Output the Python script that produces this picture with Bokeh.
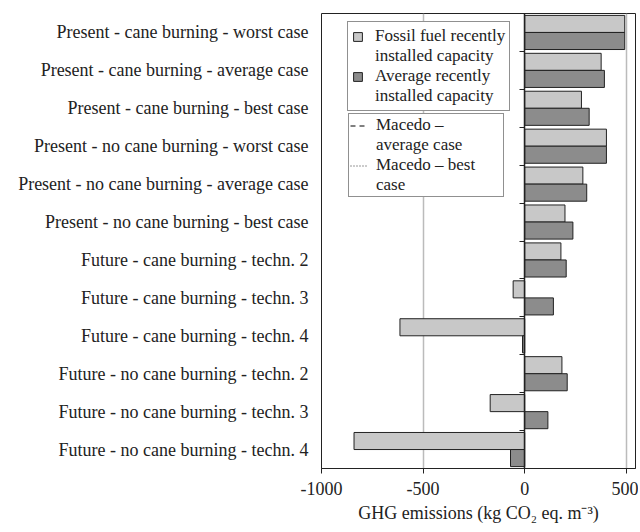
from bokeh.plotting import figure
from bokeh.models import Range1d, FixedTicker, LinearAxis, Legend, LegendItem, ColumnDataSource
from bokeh.embed import file_html
from bokeh.resources import INLINE

categories = [
    "Present - cane burning - worst case",
    "Present - cane burning - average case",
    "Present - cane burning - best case",
    "Present - no cane burning - worst case",
    "Present - no cane burning - average case",
    "Present - no cane burning - best case",
    "Future - cane burning - techn. 2",
    "Future - cane burning - techn. 3",
    "Future - cane burning - techn. 4",
    "Future - no cane burning - techn. 2",
    "Future - no cane burning - techn. 3",
    "Future - no cane burning - techn. 4",
]
fossil = [492, 376, 279, 402, 286, 198, 178, -57, -614, 183, -170, -840]
average = [492, 392, 317, 402, 305, 237, 204, 141, -11, 209, 114, -70]
x_ticks = [-1000, -500, 0, 500]
x_tick_labels = ["-1000", "-500", "0", "500"]

FONT = "Liberation Serif"
FS = "18px"
LFS = "17px"
INK = "#222222"
n = len(categories)
centers = [n - i - 0.5 for i in range(n)]
bar_h = 0.45

p = figure(width=638, height=530, x_range=Range1d(-1000, 545), y_range=Range1d(0, n),
           output_backend="svg", toolbar_location=None,
           min_border_left=321, min_border_right=3, min_border_top=13, min_border_bottom=62)
p.background_fill_color = "white"
p.outline_line_color = INK
p.outline_line_width = 1

src_f = ColumnDataSource(dict(y=[c + bar_h / 2 for c in centers], v=fossil))
src_a = ColumnDataSource(dict(y=[c - bar_h / 2 for c in centers], v=average))
r_f = p.hbar(y="y", left=0, right="v", height=bar_h, source=src_f,
             fill_color="#c8c8c8", line_color=INK, line_width=1)
r_a = p.hbar(y="y", left=0, right="v", height=bar_h, source=src_a,
             fill_color="#8c8c8c", line_color=INK, line_width=1)
nan = float("nan")
r_d = p.line(x=[nan], y=[nan], line_color="black", line_dash="5 4", line_width=1)
r_o = p.line(x=[nan], y=[nan], line_color="#333333", line_dash="1 2", line_width=1)

# x axis
xa = p.xaxis[0]
xa.ticker = FixedTicker(ticks=x_ticks)
xa.major_label_overrides = dict(zip(x_ticks, x_tick_labels))
xa.axis_line_color = INK
xa.major_tick_line_color = INK
xa.major_tick_out = 5
xa.major_tick_in = 0
xa.minor_tick_line_color = None
xa.major_label_text_font = FONT
xa.major_label_text_font_size = FS
xa.major_label_text_color = INK
xa.major_label_standoff = 8
xa.axis_label = "GHG emissions (kg CO\u2082 eq. m\u207b\u00b3)"
xa.axis_label_text_font = FONT
xa.axis_label_text_font_size = FS
xa.axis_label_text_font_style = "normal"
xa.axis_label_text_color = INK
xa.axis_label_standoff = 5

# category labels axis
ya = p.yaxis[0]
ya.ticker = FixedTicker(ticks=centers)
ya.major_label_overrides = {c: lab for c, lab in zip(centers, categories)}
ya.axis_line_color = None
ya.major_tick_line_color = None
ya.minor_tick_line_color = None
ya.major_label_text_font = FONT
ya.major_label_text_font_size = FS
ya.major_label_text_color = INK
ya.major_label_standoff = 7

# zero axis with boundary ticks
za = LinearAxis(fixed_location=0, ticker=FixedTicker(ticks=list(range(1, n))))
za.major_label_text_font_size = "0px"
za.major_label_overrides = {i: "" for i in range(1, n)}
za.axis_line_color = INK
za.axis_line_width = 1.5
za.major_tick_line_color = INK
za.major_tick_out = 5
za.major_tick_in = 0
za.minor_tick_line_color = None
p.add_layout(za, "left")

p.xgrid.ticker = FixedTicker(ticks=[-500, 500])
p.xgrid.grid_line_color = "#bbbbbb"
p.xgrid.grid_line_width = 1.5
p.ygrid.grid_line_color = None

def style_legend(lg, gw, standoff, lw, spacing, padding):
    lg.label_text_font = FONT
    lg.label_text_font_size = LFS
    lg.label_text_color = INK
    lg.label_height = 18
    lg.label_width = lw
    lg.label_text_baseline = "middle"
    lg.border_line_color = INK
    lg.border_line_width = 1
    lg.background_fill_alpha = 1
    lg.glyph_width = gw
    lg.glyph_height = 11
    lg.label_standoff = standoff
    lg.spacing = spacing
    lg.padding = padding
    lg.margin = 0

leg1 = Legend(items=[LegendItem(label="Fossil fuel recently", renderers=[r_f]),
                     LegendItem(label="installed capacity", renderers=[]),
                     LegendItem(label="Average recently", renderers=[r_a]),
                     LegendItem(label="installed capacity", renderers=[])],
              location=(26, 357))
style_legend(leg1, 11, 12, 130, 0, 4)
leg2 = Legend(items=[LegendItem(label="Macedo \u2013", renderers=[r_d]),
                     LegendItem(label="average case", renderers=[]),
                     LegendItem(label="Macedo \u2013 best", renderers=[r_o]),
                     LegendItem(label="case", renderers=[])],
              location=(27, 271))
style_legend(leg2, 17, 9, 126, -1, 1)
p.add_layout(leg1)
p.add_layout(leg2)

open("out.html", "w").write(file_html(p, INLINE))
